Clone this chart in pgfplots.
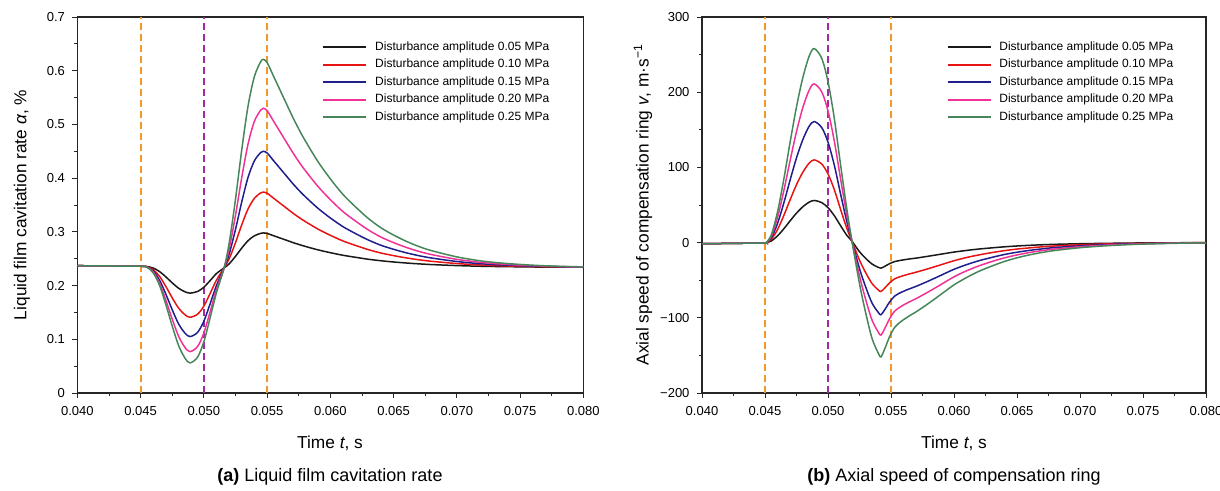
\documentclass[border=0pt]{standalone}
\usepackage{fontspec}
\setmainfont{Liberation Sans}
\usepackage{pgfplots}
\pgfplotsset{compat=1.18}

\definecolor{cBlack}{RGB}{25,25,25}
\definecolor{cRed}{RGB}{232,20,20}
\definecolor{cBlue}{RGB}{30,30,140}
\definecolor{cPink}{RGB}{240,50,150}
\definecolor{cGreen}{RGB}{70,135,90}
\definecolor{cOrange}{RGB}{242,152,40}
\definecolor{cPurple}{RGB}{165,40,165}

\pgfplotsset{
  panel/.style={
    scale only axis, width=506pt, height=376pt,
    xmin=0.04, xmax=0.08, scaled x ticks=false, scaled y ticks=false,
    xtick={0.04,0.045,0.05,0.055,0.06,0.065,0.07,0.075,0.08},
    xticklabels={0.040,0.045,0.050,0.055,0.060,0.065,0.070,0.075,0.080},
    minor x tick num=1, minor y tick num=1,
    tick align=outside, xtick pos=bottom, ytick pos=left,
    major tick length=5pt, minor tick length=3pt,
    axis line style={line width=1.1pt, black!85},
    tick style={line width=0.9pt, black!85},
    every tick label/.append style={font=\fontsize{13}{15}\selectfont},
    xticklabel style={yshift=-5pt},
    yticklabel style={xshift=-4pt},
    legend style={draw=none, fill=none, inner sep=0pt,
      font=\fontsize{12}{14}\selectfont, row sep=5.5pt,
      nodes={inner sep=0pt, text height=9pt, text depth=3pt}},
    legend cell align=left,
    legend image code/.code={\draw[#1, line width=1.9pt] (0pt,0pt) -- (43pt,0pt); \path (51pt,0pt);},
    every axis plot/.append style={line width=1.5pt, smooth, no markers},
  },
  vline/.style={forget plot, line width=1.9pt, dash pattern=on 7pt off 4pt, sharp plot},
}

\begin{document}
\begin{tikzpicture}
\path[use as bounding box] (0,0) rectangle (1220pt,490pt);

% (a) cavitation rate
\begin{axis}[panel, at={(77.4pt,97pt)}, anchor=south west,
    ymin=0, ymax=0.7,
    ytick={0,0.1,0.2,0.3,0.4,0.5,0.6,0.7},
    yticklabels={0,0.1,0.2,0.3,0.4,0.5,0.6,0.7},
    legend style={at={(0.484,0.936)}, anchor=north west}]
\addplot[vline, cOrange] coordinates {(0.045,0) (0.045,0.7)};
\addplot[vline, cPurple] coordinates {(0.050,0) (0.050,0.7)};
\addplot[vline, cOrange] coordinates {(0.055,0) (0.055,0.7)};

\addplot[cBlack] coordinates {
 (0.040,0.237)(0.0425,0.2365)(0.045,0.236)(0.0455,0.2355)(0.046,0.2325)(0.0465,0.226)(0.047,0.216)(0.0475,0.205)(0.048,0.195)(0.0485,0.1885)(0.0489,0.186)(0.0495,0.189)(0.050,0.197)(0.0505,0.2095)(0.051,0.2225)(0.0516,0.233)(0.052,0.2405)(0.0525,0.2545)(0.053,0.2700)(0.0535,0.2838)(0.054,0.2928)(0.0545,0.2973)(0.0547,0.298)(0.055,0.2970)(0.0555,0.2929)(0.056,0.2887)(0.0565,0.2846)(0.057,0.2804)(0.0575,0.2766)(0.058,0.2730)(0.059,0.2666)(0.060,0.2612)(0.061,0.2564)(0.062,0.2526)(0.063,0.2490)(0.064,0.2462)(0.065,0.2439)(0.066,0.2420)(0.067,0.2404)(0.068,0.2391)(0.070,0.2372)(0.072,0.2359)(0.074,0.2352)(0.076,0.2346)(0.078,0.2343)(0.080,0.2341)};
\addlegendentry{Disturbance amplitude 0.05 MPa}
\addplot[cRed] coordinates {
 (0.040,0.237)(0.0425,0.2365)(0.045,0.236)(0.0455,0.235)(0.046,0.2293)(0.0465,0.217)(0.047,0.198)(0.0475,0.177)(0.048,0.158)(0.0485,0.1458)(0.0489,0.141)(0.0495,0.1467)(0.050,0.1619)(0.0505,0.1857)(0.051,0.2104)(0.0516,0.233)(0.052,0.2500)(0.0525,0.2800)(0.053,0.3138)(0.0535,0.3432)(0.054,0.3628)(0.0545,0.3727)(0.0547,0.374)(0.055,0.3719)(0.0555,0.3628)(0.056,0.3537)(0.0565,0.3446)(0.057,0.3355)(0.0575,0.3271)(0.058,0.3194)(0.059,0.3054)(0.060,0.2935)(0.061,0.2830)(0.062,0.2746)(0.063,0.2669)(0.064,0.2606)(0.065,0.2557)(0.066,0.2515)(0.067,0.2480)(0.068,0.2452)(0.070,0.2410)(0.072,0.2382)(0.074,0.2365)(0.076,0.2354)(0.078,0.2347)(0.080,0.2343)};
\addlegendentry{Disturbance amplitude 0.10 MPa}
\addplot[cBlue] coordinates {
 (0.040,0.237)(0.0425,0.2365)(0.045,0.236)(0.0455,0.2347)(0.046,0.2268)(0.0465,0.2098)(0.047,0.1836)(0.0475,0.1548)(0.048,0.1286)(0.0485,0.1116)(0.0489,0.105)(0.0495,0.1129)(0.050,0.1338)(0.0505,0.1666)(0.051,0.2006)(0.0516,0.233)(0.052,0.2590)(0.0525,0.3047)(0.053,0.3567)(0.0535,0.4023)(0.054,0.4326)(0.0545,0.4479)(0.0547,0.450)(0.055,0.4468)(0.0555,0.4327)(0.056,0.4187)(0.0565,0.4046)(0.057,0.3906)(0.0575,0.3776)(0.058,0.3658)(0.059,0.3442)(0.060,0.3258)(0.061,0.3096)(0.062,0.2966)(0.063,0.2848)(0.064,0.2750)(0.065,0.2675)(0.066,0.2610)(0.067,0.2556)(0.068,0.2513)(0.070,0.2448)(0.072,0.2405)(0.074,0.2379)(0.076,0.2362)(0.078,0.2351)(0.080,0.2344)};
\addlegendentry{Disturbance amplitude 0.15 MPa}
\addplot[cPink] coordinates {
 (0.040,0.237)(0.0425,0.2365)(0.045,0.236)(0.0455,0.2344)(0.046,0.2249)(0.0465,0.2042)(0.047,0.1724)(0.0475,0.1374)(0.048,0.1056)(0.0485,0.0850)(0.0489,0.077)(0.0495,0.0865)(0.050,0.112)(0.0505,0.1517)(0.051,0.1931)(0.0516,0.233)(0.052,0.2686)(0.0525,0.3310)(0.053,0.4023)(0.0535,0.4646)(0.054,0.5062)(0.0545,0.5270)(0.0547,0.530)(0.055,0.5256)(0.0555,0.5063)(0.056,0.4871)(0.0565,0.4678)(0.057,0.4486)(0.0575,0.4308)(0.058,0.4146)(0.059,0.3850)(0.060,0.3598)(0.061,0.3376)(0.062,0.3198)(0.063,0.3036)(0.064,0.2902)(0.065,0.2799)(0.066,0.2710)(0.067,0.2636)(0.068,0.2577)(0.070,0.2488)(0.072,0.2429)(0.074,0.2393)(0.076,0.2370)(0.078,0.2355)(0.080,0.2346)};
\addlegendentry{Disturbance amplitude 0.20 MPa}
\addplot[cGreen] coordinates {
 (0.040,0.237)(0.0425,0.2365)(0.045,0.236)(0.0455,0.2342)(0.046,0.2234)(0.0465,0.200)(0.047,0.164)(0.0475,0.1244)(0.048,0.0884)(0.0485,0.065)(0.0489,0.056)(0.0495,0.0668)(0.050,0.0956)(0.0505,0.1406)(0.051,0.1874)(0.0516,0.233)(0.052,0.2795)(0.0525,0.3611)(0.053,0.4541)(0.0535,0.5357)(0.054,0.5899)(0.0545,0.6172)(0.0547,0.621)(0.055,0.6152)(0.0555,0.5900)(0.056,0.5649)(0.0565,0.5397)(0.057,0.5146)(0.0575,0.4914)(0.058,0.4701)(0.059,0.4314)(0.060,0.3985)(0.061,0.3695)(0.062,0.3462)(0.063,0.3249)(0.064,0.3075)(0.065,0.2940)(0.066,0.2824)(0.067,0.2727)(0.068,0.2650)(0.070,0.2534)(0.072,0.2456)(0.074,0.2410)(0.076,0.2379)(0.078,0.2359)(0.080,0.2348)};
\addlegendentry{Disturbance amplitude 0.25 MPa}
\end{axis}

% (b) axial speed
\begin{axis}[panel, at={(702pt,97pt)}, anchor=south west, width=504pt,
    ymin=-200, ymax=300,
    ytick={-200,-100,0,100,200,300},
    yticklabels={−200,−100,0,100,200,300},
    legend style={at={(0.485,0.936)}, anchor=north west}]
\addplot[vline, cOrange] coordinates {(0.045,-200) (0.045,300)};
\addplot[vline, cPurple] coordinates {(0.050,-200) (0.050,300)};
\addplot[vline, cOrange] coordinates {(0.055,-200) (0.055,300)};

\addplot[cBlack] coordinates {
 (0.040,-1.5)(0.0425,-1)(0.045,-0.5)(0.0451,0)(0.0455,2.2)(0.046,9.0)(0.0465,18.5)(0.047,29.1)(0.0475,39.2)(0.048,47.6)(0.0485,53.8)(0.0489,56)(0.0495,53.2)(0.050,46.5)(0.0505,35.8)(0.051,22.4)(0.0515,9.5)(0.0519,2)(0.0525,-12.2)(0.053,-21.1)(0.0535,-28.6)(0.054,-33)(0.0542,-34)(0.0545,-31.6)(0.0549,-27.9)(0.0553,-25.2)(0.0558,-23.5)(0.0564,-21.9)(0.057,-20.6)(0.058,-18.0)(0.059,-15.3)(0.060,-12.6)(0.061,-10.4)(0.062,-8.5)(0.063,-7.0)(0.064,-5.6)(0.065,-4.5)(0.066,-3.6)(0.067,-2.9)(0.068,-2.3)(0.070,-1.5)(0.072,-1.0)(0.074,-0.6)(0.076,-0.3)(0.078,-0.2)(0.080,-0.1)};
\addlegendentry{Disturbance amplitude 0.05 MPa}
\addplot[cRed] coordinates {
 (0.040,-1.5)(0.0425,-1)(0.045,-0.5)(0.0451,0)(0.0455,4.4)(0.046,17.6)(0.0465,36.3)(0.047,57.2)(0.0475,77)(0.048,93.5)(0.0485,105.6)(0.0489,110)(0.0495,104.5)(0.050,91.3)(0.0505,70.4)(0.051,44)(0.0515,18.7)(0.0519,2)(0.0525,-23.4)(0.053,-40.3)(0.0535,-54.6)(0.054,-63.1)(0.0542,-65)(0.0545,-60.5)(0.0549,-53.3)(0.0553,-48.1)(0.0558,-44.9)(0.0564,-41.9)(0.057,-39.3)(0.058,-34.5)(0.059,-29.3)(0.060,-24.1)(0.061,-19.8)(0.062,-16.3)(0.063,-13.3)(0.064,-10.7)(0.065,-8.6)(0.066,-7.0)(0.067,-5.6)(0.068,-4.5)(0.070,-2.9)(0.072,-1.8)(0.074,-1.1)(0.076,-0.7)(0.078,-0.3)(0.080,-0.1)};
\addlegendentry{Disturbance amplitude 0.10 MPa}
\addplot[cBlue] coordinates {
 (0.040,-1.5)(0.0425,-1)(0.045,-0.5)(0.0451,0)(0.0455,6.4)(0.046,25.8)(0.0465,53.1)(0.047,83.7)(0.0475,112.7)(0.048,136.9)(0.0485,154.6)(0.0489,161)(0.0495,153)(0.050,133.6)(0.0505,103)(0.051,64.4)(0.0515,27.4)(0.0519,2)(0.0525,-34.6)(0.053,-59.5)(0.0535,-80.6)(0.054,-93.1)(0.0542,-96)(0.0545,-89.3)(0.0549,-78.7)(0.0553,-71.0)(0.0558,-66.2)(0.0564,-61.9)(0.057,-58.1)(0.058,-50.9)(0.059,-43.2)(0.060,-35.5)(0.061,-29.3)(0.062,-24.0)(0.063,-19.7)(0.064,-15.8)(0.065,-12.8)(0.066,-10.3)(0.067,-8.3)(0.068,-6.6)(0.070,-4.3)(0.072,-2.7)(0.074,-1.6)(0.076,-1.0)(0.078,-0.5)(0.080,-0.2)};
\addlegendentry{Disturbance amplitude 0.15 MPa}
\addplot[cPink] coordinates {
 (0.040,-1.5)(0.0425,-1)(0.045,-0.5)(0.0451,0)(0.0455,8.4)(0.046,33.8)(0.0465,69.6)(0.047,109.7)(0.0475,147.7)(0.048,179.4)(0.0485,202.6)(0.0489,211)(0.0495,200.5)(0.050,175.1)(0.0505,135)(0.051,84.4)(0.0515,35.9)(0.0519,2)(0.0525,-44.3)(0.053,-76.3)(0.0535,-103.3)(0.054,-119.3)(0.0542,-123)(0.0545,-114.4)(0.0549,-100.9)(0.0553,-91.0)(0.0558,-84.9)(0.0564,-79.3)(0.057,-74.4)(0.058,-65.2)(0.059,-55.4)(0.060,-45.5)(0.061,-37.5)(0.062,-30.8)(0.063,-25.2)(0.064,-20.3)(0.065,-16.4)(0.066,-13.2)(0.067,-10.6)(0.068,-8.5)(0.070,-5.5)(0.072,-3.4)(0.074,-2.1)(0.076,-1.2)(0.078,-0.6)(0.080,-0.2)};
\addlegendentry{Disturbance amplitude 0.20 MPa}
\addplot[cGreen] coordinates {
 (0.040,-1.5)(0.0425,-1)(0.045,-0.5)(0.0451,0)(0.0455,10.3)(0.046,41.3)(0.0465,85.1)(0.047,134.2)(0.0475,180.6)(0.048,219.3)(0.0485,247.7)(0.0489,258)(0.0495,245.1)(0.050,214.1)(0.0505,165.1)(0.051,103.2)(0.0515,43.9)(0.0519,2)(0.0525,-54.7)(0.053,-94.2)(0.0535,-127.7)(0.054,-147.4)(0.0542,-152)(0.0545,-141.4)(0.0549,-124.6)(0.0553,-112.5)(0.0558,-104.9)(0.0564,-98.0)(0.057,-92.0)(0.058,-80.6)(0.059,-68.4)(0.060,-56.2)(0.061,-46.4)(0.062,-38.0)(0.063,-31.2)(0.064,-25.1)(0.065,-20.2)(0.066,-16.3)(0.067,-13.1)(0.068,-10.5)(0.070,-6.8)(0.072,-4.3)(0.074,-2.6)(0.076,-1.5)(0.078,-0.8)(0.080,-0.3)};
\addlegendentry{Disturbance amplitude 0.25 MPa}
\end{axis}

% axis titles and captions
\node[rotate=90, font=\fontsize{17.3}{19}\selectfont] at (22pt,285pt) {Liquid film cavitation rate \textit{α}, \%};
\node[rotate=90, font=\fontsize{17.3}{19}\selectfont] at (643pt,285pt) {Axial speed of compensation ring \textit{v}, m·s\textsuperscript{−1}};
\node[font=\fontsize{17.3}{19}\selectfont] at (330pt,47pt) {Time \textit{t}, s};
\node[font=\fontsize{17.3}{19}\selectfont] at (954pt,47pt) {Time \textit{t}, s};
\node[font=\fontsize{18}{20}\selectfont] at (330pt,13pt) {\textbf{(a)} Liquid film cavitation rate};
\node[font=\fontsize{18}{20}\selectfont] at (954pt,13pt) {\textbf{(b)} Axial speed of compensation ring};
\end{tikzpicture}
\end{document}
